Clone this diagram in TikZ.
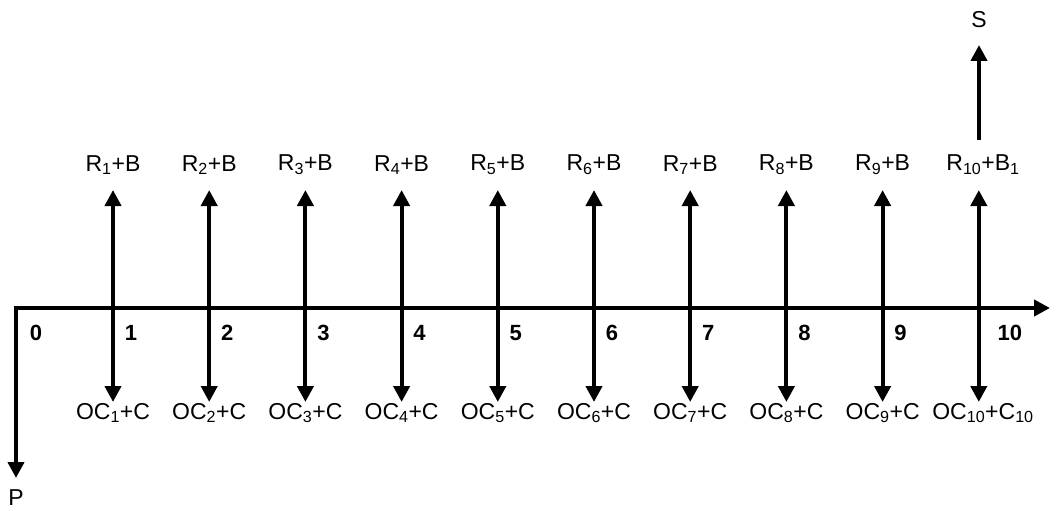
\documentclass[tikz,border=0pt]{standalone}
\usepackage{fontspec}
\setmainfont{Liberation Sans}
\usetikzlibrary{arrows.meta}
\usetikzlibrary{positioning}

\tikzset{
  flow/.style={line width=4pt, -{Triangle[width=16pt,length=16pt]}},
  both/.style={line width=4pt, {Triangle[width=16pt,length=16pt]}-{Triangle[width=16pt,length=16pt]}},
  lbl/.style={inner sep=0pt, font=\fontsize{23}{27}\selectfont},
  num/.style={inner sep=0pt, font=\fontsize{22}{26}\selectfont\bfseries}
}

\begin{document}
\begin{tikzpicture}[x=1pt,y=-1pt]
  \useasboundingbox (0,0) rectangle (1057,511);

  % Define nodes
  \coordinate (o) at (16,308);
  \coordinate (end) at (1050,308);
  \coordinate (pend) at (16,478);
  \node[lbl] (p) at (16,498) {P};
  \node[num] (n0) at (36,333) {0};
  \foreach \i in {1,...,10} {
    \pgfmathsetmacro{\xx}{113+96.2*(\i-1)}
    \coordinate (hi\i) at (\xx,190);
    \coordinate (lo\i) at (\xx,402);
    \node[num] (n\i) at ({\xx+18+13*int(\i/10)},333) {\i};
  }
  \foreach \i in {1,...,9} {
    \node[lbl] (up\i) at ({113+96.2*(\i-1)},165) {R\textsubscript{\i}+B};
    \node[lbl] (dn\i) at ({113+96.2*(\i-1)},413) {OC\textsubscript{\i}+C};
  }
  \node[lbl] (up10) at (983,165) {R\textsubscript{10}+B\textsubscript{1}};
  \node[lbl] (dn10) at (983,413) {OC\textsubscript{10}+C\textsubscript{10}};
  \coordinate (sbot) at (979,140);
  \coordinate (stop) at (979,45);
  \node[lbl] (s) at (979,20) {S};

  % Connect the nodes
  \draw[both, line join=miter] (pend) -- (o) -- (end);
  \foreach \i in {1,...,10}
    \draw[both] (lo\i) -- (hi\i);
  \draw[flow] (sbot) -- (stop);

\end{tikzpicture}
\end{document}
